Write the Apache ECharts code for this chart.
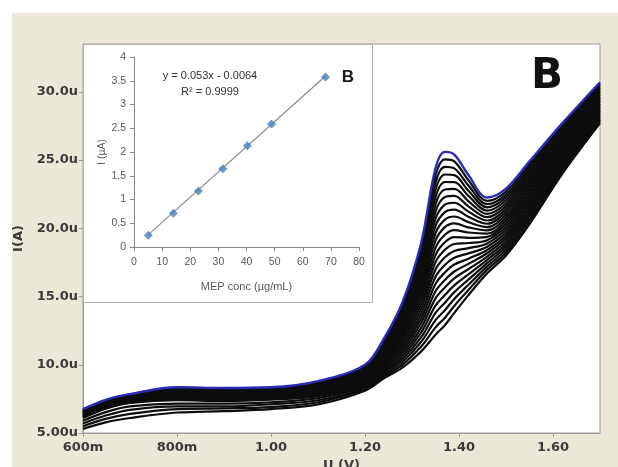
<!DOCTYPE html>
<html><head><meta charset="utf-8">
<script src="https://cdn.jsdelivr.net/npm/echarts@6/dist/echarts.min.js"></script>
<style>
html,body{margin:0;padding:0;background:#fff;}
#bg{position:absolute;left:12px;top:13px;width:606px;height:454px;background:#ebe8da;}
#chart{position:absolute;left:0;top:0;width:618px;height:467px;}
</style></head><body>
<div id="bg"></div><div id="chart"></div>
<script>
// ---- main voltammograms: potential (mV) and current (µA) of 24 scans (top scan first) ----
const potentialsMv = [600,650,700,800,900,1000,1100,1200,1240,1280,1320,1350,1370,1390,1420,1460,1500,1550,1620,1700];
const i0600 = [6.75,6.72,6.69,6.65,6.62,6.58,6.55,6.51,6.48,6.44,6.41,6.37,6.34,6.30,6.27,6.23,6.20,6.16,6.13,6.10,5.90,5.70,5.50,5.30];
const i0650 = [7.45,7.42,7.39,7.35,7.32,7.28,7.25,7.21,7.18,7.14,7.11,7.07,7.04,7.00,6.97,6.93,6.90,6.86,6.83,6.80,6.55,6.30,6.05,5.80];
const i0700 = [7.85,7.82,7.79,7.75,7.72,7.68,7.65,7.61,7.58,7.54,7.51,7.47,7.44,7.40,7.37,7.33,7.30,7.26,7.23,7.20,6.95,6.70,6.40,6.10];
const i0800 = [8.35,8.30,8.25,8.20,8.15,8.10,8.05,8.00,7.95,7.90,7.85,7.80,7.75,7.70,7.65,7.60,7.55,7.50,7.45,7.40,7.15,6.95,6.75,6.50];
const i0900 = [8.30,8.25,8.20,8.15,8.10,8.05,8.00,7.95,7.90,7.85,7.80,7.75,7.70,7.65,7.60,7.55,7.50,7.45,7.40,7.35,7.15,6.95,6.80,6.60];
const i1000 = [8.35,8.30,8.25,8.21,8.16,8.12,8.07,8.02,7.98,7.93,7.88,7.84,7.79,7.74,7.70,7.65,7.60,7.56,7.51,7.45,7.25,7.10,6.90,6.75];
const i1100 = [8.80,8.74,8.68,8.62,8.56,8.50,8.44,8.38,8.32,8.26,8.20,8.14,8.08,8.02,7.96,7.90,7.85,7.80,7.75,7.70,7.55,7.40,7.25,7.10];
const i1200 = [10.00,9.92,9.84,9.76,9.68,9.60,9.52,9.44,9.36,9.28,9.20,9.12,9.04,8.96,8.88,8.80,8.72,8.64,8.56,8.48,8.40,8.30,8.20,8.10];
const i1240 = [11.90,11.77,11.65,11.52,11.40,11.27,11.14,11.02,10.89,10.77,10.64,10.51,10.39,10.26,10.13,10.01,9.88,9.76,9.63,9.50,9.38,9.25,9.13,9.00];
const i1280 = [14.60,14.39,14.18,13.97,13.77,13.56,13.35,13.14,12.93,12.72,12.51,12.30,12.10,11.89,11.68,11.47,11.26,11.05,10.84,10.63,10.43,10.22,10.01,9.80];
const i1320 = [19.00,18.65,18.30,17.96,17.61,17.26,16.91,16.57,16.22,15.87,15.52,15.17,14.83,14.48,14.13,13.78,13.43,13.09,12.74,12.39,12.04,11.70,11.35,11.00];
const i1350 = [24.40,23.87,23.34,22.81,22.28,21.75,21.22,20.69,20.16,19.63,19.10,18.57,18.04,17.51,16.98,16.45,15.92,15.39,14.86,14.33,13.80,13.27,12.74,12.20];
const i1370 = [25.60,25.05,24.50,23.94,23.39,22.84,22.29,21.73,21.18,20.63,20.08,19.52,18.97,18.42,17.87,17.31,16.76,16.21,15.66,15.11,14.55,14.00,13.45,12.90];
const i1390 = [25.40,24.90,24.39,23.89,23.38,22.88,22.38,21.87,21.37,20.86,20.36,19.86,19.35,18.85,18.34,17.84,17.34,16.83,16.33,15.82,15.32,14.82,14.31,13.80];
const i1420 = [23.90,23.52,23.13,22.75,22.37,21.99,21.60,21.22,20.84,20.45,20.07,19.69,19.30,18.92,18.54,18.16,17.77,17.39,17.01,16.62,16.24,15.86,15.47,15.10];
const i1460 = [22.25,22.01,21.77,21.53,21.29,21.05,20.81,20.57,20.33,20.09,19.85,19.61,19.37,19.13,18.89,18.65,18.41,18.17,17.93,17.69,17.45,17.21,16.97,16.70];
const i1500 = [22.90,22.69,22.47,22.26,22.05,21.83,21.62,21.41,21.20,20.98,20.77,20.56,20.34,20.13,19.92,19.70,19.49,19.28,19.07,18.85,18.64,18.43,18.21,18.00];
const i1550 = [24.90,24.70,24.50,24.30,24.10,23.90,23.70,23.50,23.30,23.10,22.90,22.70,22.50,22.30,22.10,21.90,21.70,21.50,21.30,21.10,20.90,20.70,20.50,20.30];
const i1620 = [27.70,27.54,27.38,27.22,27.06,26.90,26.73,26.57,26.41,26.25,26.09,25.93,25.77,25.61,25.45,25.29,25.12,24.96,24.80,24.64,24.48,24.32,24.16,24.00];
const i1700 = [30.70,30.57,30.44,30.31,30.18,30.05,29.92,29.79,29.66,29.53,29.40,29.27,29.14,29.01,28.88,28.75,28.62,28.49,28.36,28.23,28.10,27.97,27.84,27.70];

const xTickValuesMv = [600,800,1000,1200,1400,1600];
const xTickLabels = ['600m','800m','1.00','1.20','1.40','1.60'];
const yTickValues = [5,10,15,20,25,30];
const yTickLabels = ['5.00u','10.0u','15.0u','20.0u','25.0u','30.0u'];

// ---- inset calibration ----
const concUgMl = [5.1,14.0,22.9,31.6,40.3,48.9,68.1];
const peakCurrentUa = [0.25,0.71,1.18,1.65,2.13,2.59,3.58];
const trendX = [5.1,68.1];
const trendY = [0.26,3.60];
const equationText = 'y = 0.053x - 0.0064';
const r2Text = 'R\u00b2 = 0.9999';

const columns = [i0600,i0650,i0700,i0800,i0900,i1000,i1100,i1200,i1240,i1280,i1320,i1350,i1370,i1390,i1420,i1460,i1500,i1550,i1620,i1700];
const scanCount = i0600.length;

const series = [];
for (let k = scanCount - 1; k >= 0; k--) {
  series.push({
    type: 'line', xAxisIndex: 0, yAxisIndex: 0,
    data: potentialsMv.map((p, j) => [p, columns[j][k]]),
    showSymbol: false, symbol: 'none', smooth: 0.35, silent: true,
    lineStyle: { color: k === 0 ? '#2a2ab4' : '#0d0d0d', width: k === 0 ? 2.4 : 2.2 },
    z: k === 0 ? 3 : 2
  });
}
series.push({
  type: 'line', xAxisIndex: 1, yAxisIndex: 1,
  data: trendX.map((x, i) => [x, trendY[i]]),
  showSymbol: false, symbol: 'none', silent: true,
  lineStyle: { color: '#8a8a8a', width: 1.2 }, z: 5
});
series.push({
  type: 'scatter', xAxisIndex: 1, yAxisIndex: 1,
  data: concUgMl.map((x, i) => [x, peakCurrentUa[i]]),
  symbol: 'diamond', symbolSize: 9,
  itemStyle: { color: '#4a7ebb' }, z: 6
});

const chart = echarts.init(document.getElementById('chart'), null, { renderer: 'canvas' });
const mainLabel = { fontFamily: 'DejaVu Sans', fontWeight: 'bold', fontSize: 13, color: '#3a3a3a' };
const insetLabel = { fontFamily: 'Liberation Sans', fontSize: 10.5, color: '#595959' };

chart.setOption({
  animation: false,
  backgroundColor: 'transparent',
  grid: [
    { left: 83, top: 44, width: 517, height: 389, outerBoundsMode: 'none', containLabel: false,
      show: true, backgroundColor: '#ffffff', borderColor: '#9a9a9a', borderWidth: 1 },
    { left: 134, top: 57, width: 225, height: 190, outerBoundsMode: 'none', containLabel: false }
  ],
  xAxis: [
    {
      gridIndex: 0, type: 'value', min: 600, max: 1700, interval: 200,
      axisLine: { show: true, lineStyle: { color: '#9a9a9a' } },
      axisTick: { show: true, length: 4, lineStyle: { color: '#9a9a9a' } },
      splitLine: { show: false },
      axisLabel: Object.assign({ margin: 8, showMaxLabel: false,
        formatter: v => { const i = xTickValuesMv.indexOf(v); return i >= 0 ? xTickLabels[i] : ''; } }, mainLabel),
      name: 'U (V)', nameLocation: 'middle', nameGap: 22, nameTextStyle: mainLabel
    },
    {
      gridIndex: 1, type: 'value', min: 0, max: 80, interval: 10, z: 4,
      axisLine: { show: true, lineStyle: { color: '#868686' } },
      axisTick: { show: true, length: 4, lineStyle: { color: '#868686' } },
      splitLine: { show: false },
      axisLabel: Object.assign({ margin: 10 }, insetLabel),
      name: 'MEP conc (\u00b5g/mL)', nameLocation: 'middle', nameGap: 34,
      nameTextStyle: { fontFamily: 'Liberation Sans', fontSize: 11, color: '#595959' }
    }
  ],
  yAxis: [
    {
      gridIndex: 0, type: 'value', min: 5, max: 33.5, interval: 5,
      axisLine: { show: true, lineStyle: { color: '#9a9a9a' } },
      axisTick: { show: true, length: 4, lineStyle: { color: '#9a9a9a' } },
      splitLine: { show: false },
      axisLabel: Object.assign({ margin: 5, showMaxLabel: false, padding: [0, 0, 6, 0],
        formatter: v => { const i = yTickValues.indexOf(v); return i >= 0 ? yTickLabels[i] : ''; } }, mainLabel),
      name: 'I(A)', nameLocation: 'middle', nameGap: 58, nameRotate: 90, nameTextStyle: mainLabel
    },
    {
      gridIndex: 1, type: 'value', min: 0, max: 4, interval: 0.5, z: 4,
      axisLine: { show: true, lineStyle: { color: '#868686' } },
      axisTick: { show: true, length: 4, lineStyle: { color: '#868686' } },
      splitLine: { show: false },
      axisLabel: Object.assign({ margin: 8 }, insetLabel),
      name: 'I (\u00b5A)', nameLocation: 'middle', nameGap: 20, nameRotate: 90,
      nameTextStyle: { fontFamily: 'Liberation Sans', fontSize: 10.5, color: '#595959' }
    }
  ],
  graphic: [
    { type: 'rect', z: 1, silent: true, shape: { x: 83.5, y: 44.5, width: 289, height: 258 },
      style: { fill: '#ffffff', stroke: '#b5b5b5', lineWidth: 1 } },
    { type: 'text', z: 7, silent: true,
      style: { text: equationText, x: 210, y: 76, align: 'center', verticalAlign: 'middle',
        font: '11px "Liberation Sans"', fill: '#333333' } },
    { type: 'text', z: 7, silent: true,
      style: { text: r2Text, x: 210, y: 92, align: 'center', verticalAlign: 'middle',
        font: '11px "Liberation Sans"', fill: '#333333' } },
    { type: 'text', z: 7, silent: true,
      style: { text: 'B', x: 348, y: 77, align: 'center', verticalAlign: 'middle',
        font: 'bold 17px "Liberation Sans"', fill: '#1a1a1a' } },
    { type: 'text', z: 7, silent: true,
      style: { text: 'B', x: 547, y: 77, align: 'center', verticalAlign: 'middle',
        font: 'bold 42px "DejaVu Sans"', fill: '#111111' } }
  ],
  series: series
});
</script>
</body></html>
